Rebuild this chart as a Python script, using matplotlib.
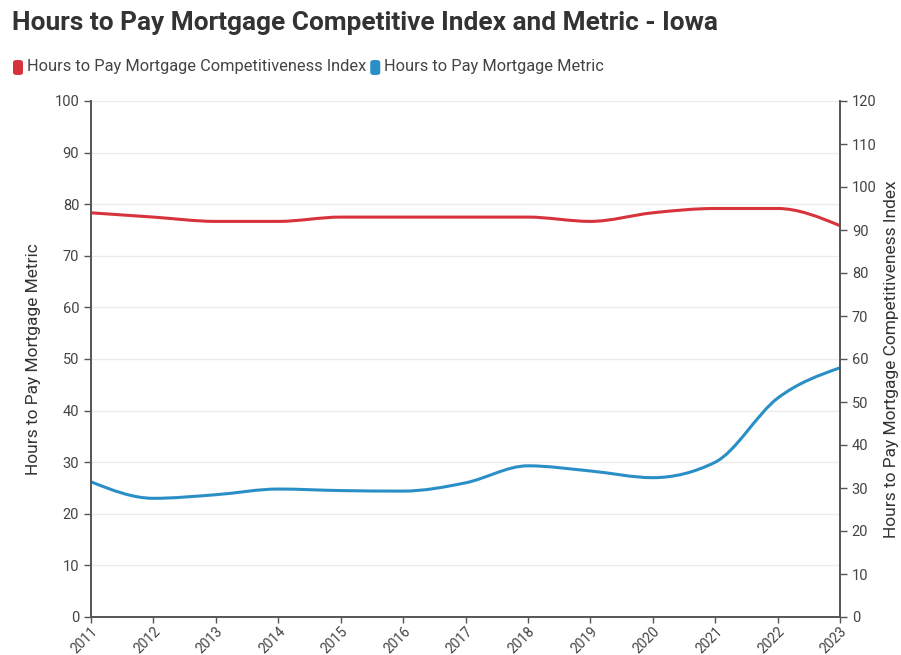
import matplotlib.pyplot as plt
import numpy as np
from matplotlib.path import Path
from matplotlib.patches import PathPatch, FancyBboxPatch

plt.rcParams['font.family'] = ['Roboto', 'DejaVu Sans']

# Data
years = [2011, 2012, 2013, 2014, 2015, 2016, 2017, 2018, 2019, 2020, 2021, 2022, 2023]
metric = [26.2, 23.0, 23.7, 24.8, 24.5, 24.4, 26.0, 29.3, 28.3, 27.0, 30.0, 42.4, 48.3]
index = [94, 93, 92, 92, 93, 93, 93, 93, 92, 94, 95, 95, 91]

red = '#d7333d'
blue = '#2b8fc7'
grey = '#555555'


# smooth line like d3 curveMonotoneX, drawn as bezier path
def monotone_path(x, y):
    x = np.asarray(x, float)
    y = np.asarray(y, float)
    n = len(x)
    h = np.diff(x)
    s = np.diff(y) / h
    t = np.zeros(n)
    for i in range(1, n - 1):
        if s[i - 1] * s[i] <= 0:
            t[i] = 0
        else:
            p = (s[i - 1] * h[i] + s[i] * h[i - 1]) / (h[i - 1] + h[i])
            t[i] = min(abs(p), 2 * min(abs(s[i - 1]), abs(s[i]))) * np.sign(s[i - 1])
    t[0] = (3 * s[0] - t[1]) / 2
    t[-1] = (3 * s[-1] - t[-2]) / 2
    verts = [(x[0], y[0])]
    codes = [Path.MOVETO]
    for i in range(n - 1):
        d = h[i] / 3
        verts += [(x[i] + d, y[i] + d * t[i]), (x[i + 1] - d, y[i + 1] - d * t[i + 1]), (x[i + 1], y[i + 1])]
        codes += [Path.CURVE4] * 3
    return Path(verts, codes)


fig = plt.figure(figsize=(9.01, 6.55), dpi=100)
ax = fig.add_axes([91 / 901, 1 - 617 / 655, 749 / 901, 516 / 655])
ax2 = ax.twinx()

ax.set_xlim(2011, 2023)
ax.set_ylim(0, 100)
ax2.set_ylim(0, 120)

ax.set_yticks(range(0, 101, 10))
ax2.set_yticks(range(0, 121, 10))
ax.set_xticks(years)
ax.set_xticklabels([str(y) for y in years], rotation=45, ha='right', va='top',
                   rotation_mode='anchor')
ax.grid(axis='y', color='#ececec', linewidth=1)
ax.set_axisbelow(True)

for a in (ax, ax2):
    a.spines['top'].set_visible(False)
    for side in ('left', 'right', 'bottom'):
        a.spines[side].set_color(grey)
        a.spines[side].set_linewidth(1.2)
    a.tick_params(colors=grey, labelcolor='#444444', labelsize=10.5, length=5, width=1)
ax.tick_params(axis='x', labelsize=10, pad=1, length=4)

ax2.add_patch(PathPatch(monotone_path(years, index), fill=False, edgecolor=red,
                        linewidth=2.2, capstyle='round'))
ax.add_patch(PathPatch(monotone_path(years, metric), fill=False, edgecolor=blue,
                       linewidth=2.2, capstyle='round'))

ax.set_ylabel('Hours to Pay Mortgage Metric', fontsize=12.5, color='#333333', labelpad=10)
ax2.set_ylabel('Hours to Pay Mortgage Competitiveness Index', fontsize=12.5,
               color='#333333', labelpad=5)

fig.text(12 / 901, 1 - 23 / 655, 'Hours to Pay Mortgage Competitive Index and Metric - Iowa',
         fontsize=18.9, fontweight='bold', color='#333333', va='center')

# legend with rounded swatches
lx = 13
for color, label in [(red, 'Hours to Pay Mortgage Competitiveness Index'),
                     (blue, 'Hours to Pay Mortgage Metric')]:
    fig.patches.append(FancyBboxPatch((lx / 901, 1 - 75 / 655), 10 / 901, 15 / 655,
                                      boxstyle='round,pad=0,rounding_size=0.004',
                                      transform=fig.transFigure, facecolor=color,
                                      edgecolor='none'))
    t = fig.text((lx + 14) / 901, 1 - 67 / 655, label, fontsize=11.8, color='#444444',
                 va='center')
    fig.canvas.draw()
    bb = t.get_window_extent()
    lx = bb.x1 + 4

fig.savefig('out.png', dpi=100)
